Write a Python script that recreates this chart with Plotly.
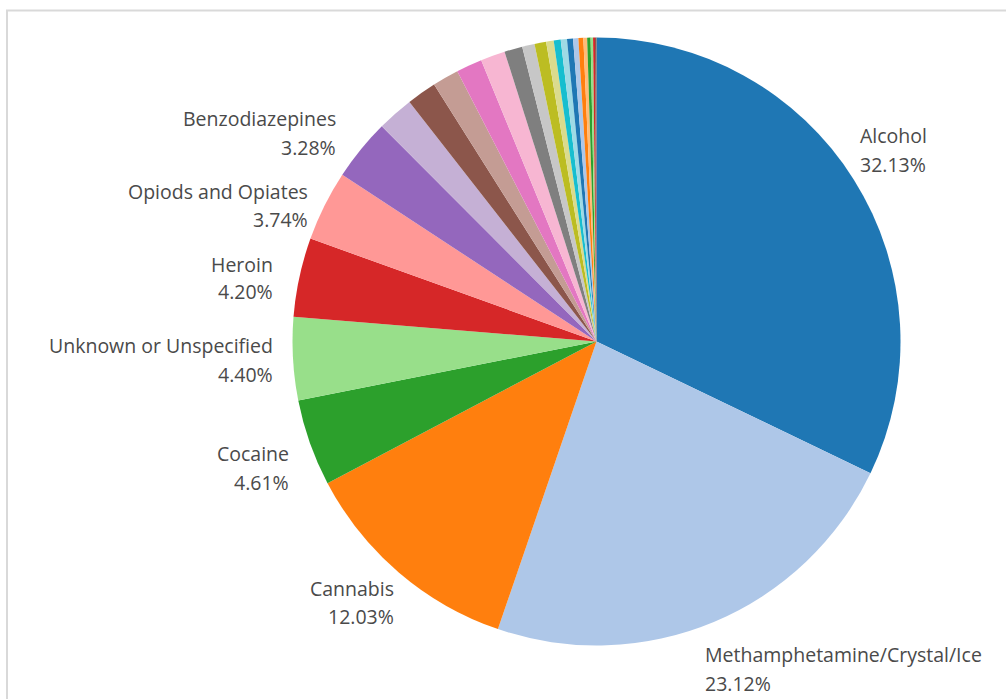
import plotly.graph_objects as go

# ---- data ----
categories = [
    "Alcohol", "Methamphetamine/Crystal/Ice", "Cannabis", "Cocaine",
    "Unknown or Unspecified", "Heroin", "Opiods and Opiates", "Benzodiazepines",
    "Other 1", "Other 2", "Other 3", "Other 4", "Other 5", "Other 6", "Other 7",
    "Other 8", "Other 9", "Other 10", "Other 11", "Other 12", "Other 13",
    "Other 14", "Other 15", "Other 16", "Other 17", "Other 18", "Other 19",
]
shares = [
    32.13, 23.12, 12.03, 4.61, 4.40, 4.20, 3.74, 3.28,
    1.93, 1.58, 1.40, 1.38, 1.30, 0.96, 0.66, 0.62, 0.40, 0.37, 0.33,
    0.32, 0.28, 0.26, 0.20, 0.18, 0.13, 0.10, 0.08,
]
colors = [
    "#1f77b4", "#aec7e8", "#ff7f0e", "#2ca02c", "#98df8a", "#d62728", "#ff9896", "#9467bd",
    "#c5b0d5", "#8c564b", "#c49c94", "#e377c2", "#f7b6d2", "#7f7f7f", "#c7c7c7",
    "#bcbd22", "#dbdb8d", "#17becf", "#9edae5", "#1f77b4", "#aec7e8", "#ff7f0e",
    "#ffbb78", "#2ca02c", "#98df8a", "#d62728", "#8c564b",
]
pct_labels = ["32.13%", "23.12%", "12.03%", "4.61%", "4.40%", "4.20%", "3.74%", "3.28%"]

W, H = 1006, 699

# label placement (pixels): anchor x, side, line-1 y, line-2 y
label_layout = [
    (858, "left", 136, 164),
    (703, "left", 654, 683),
    (396, "right", 588, 616),
    (291, "right", 454, 482),
    (275, "right", 346, 374),
    (275, "right", 264, 292),
    (310, "right", 191, 219),
    (338, "right", 118, 147),
]

cx, cy, R = 596.5, 341.5, 304

fig = go.Figure(go.Pie(
    labels=categories,
    values=shares,
    marker=dict(colors=colors, line=dict(width=0)),
    sort=False,
    direction="clockwise",
    rotation=0,
    textinfo="none",
    hole=0,
    showlegend=False,
    domain=dict(x=[(cx - R) / W, (cx + R) / W], y=[(H - cy - R) / H, (H - cy + R) / H]),
))

font = dict(family="Open Sans, Noto Sans, sans-serif", size=19.5, color="#4a4a4a")
annotations = []
for name, pct, (ax, side, y1, y2) in zip(categories, pct_labels, label_layout):
    for txt, yy in ((name, y1), (pct, y2)):
        annotations.append(dict(
            text=txt, x=ax / W, y=1 - yy / H, xref="paper", yref="paper",
            xanchor=side, yanchor="middle", showarrow=False, font=font,
        ))

fig.update_layout(
    width=W, height=H,
    margin=dict(l=0, r=0, t=0, b=0),
    paper_bgcolor="white", plot_bgcolor="white",
    annotations=annotations,
    shapes=[dict(type="rect", xref="paper", yref="paper",
                 x0=7 / W, x1=1.02, y0=-0.02, y1=1 - 10.5 / H,
                 line=dict(color="#d9d9d9", width=2), layer="below")],
)

fig.write_html(
    "out.html",
    config={"displayModeBar": False},
    post_script="document.body.style.margin='0';document.body.style.overflow='hidden';",
)
